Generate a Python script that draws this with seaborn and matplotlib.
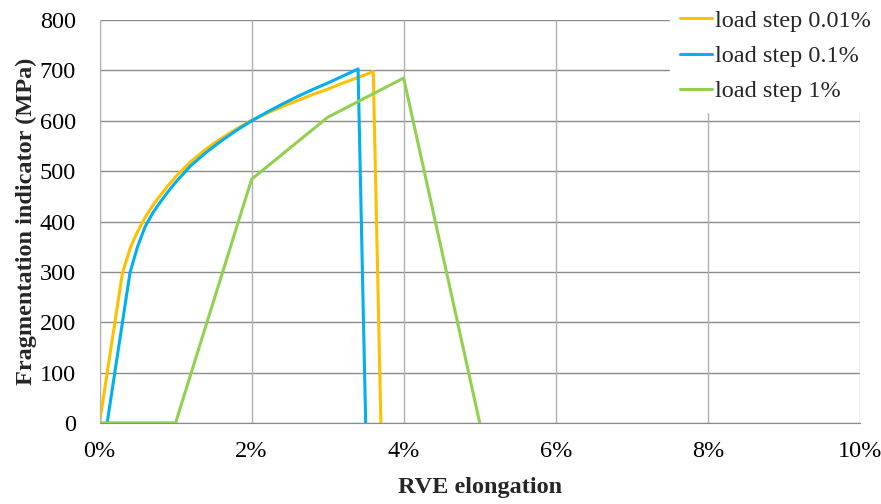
import pandas as pd
import numpy as np
import matplotlib
matplotlib.use('Agg')
import matplotlib.pyplot as plt
import seaborn as sns

# elongation in %, fragmentation indicator in MPa
x_001 = [0, 0.3, 0.41, 0.5, 0.6, 0.7, 0.8, 0.9, 1.0, 1.2, 1.4, 1.6, 1.8, 2.0,
         2.2, 2.4, 2.6, 2.8, 3.0, 3.2, 3.4, 3.6, 3.7]
y_001 = [0, 297, 350, 380, 408, 432, 452, 471, 489, 519, 544, 565, 584, 601,
         615, 628, 640, 652, 663, 675, 686, 698, 0]

x_01 = [0.1, 0.4, 0.5, 0.6, 0.7, 0.8, 0.9, 1.0, 1.2, 1.4, 1.6, 1.8, 2.0,
        2.2, 2.4, 2.6, 2.8, 3.0, 3.2, 3.4, 3.5]
y_01 = [0, 298, 350, 390, 417, 439, 459, 478, 511, 537, 560, 581, 600,
        617, 633, 648, 662, 675, 689, 703, 0]

x_1 = [0, 1, 2, 3, 4, 5]
y_1 = [0, 0, 484, 607, 685, 0]

labels = ['load step 0.01%', 'load step 0.1%', 'load step 1%']
colors = ['#FFC000', '#00B0F0', '#92D050']

xticks = [0, 2, 4, 6, 8, 10]
yticks = [0, 100, 200, 300, 400, 500, 600, 700, 800]

df = pd.concat([
    pd.DataFrame({'x': x_001, 'y': y_001, 'series': labels[0]}),
    pd.DataFrame({'x': x_01, 'y': y_01, 'series': labels[1]}),
    pd.DataFrame({'x': x_1, 'y': y_1, 'series': labels[2]}),
])

sns.set_style('white')
plt.rcParams['font.family'] = ['Liberation Serif', 'DejaVu Serif']

fig = plt.figure(figsize=(8.81, 5.04), dpi=100)
ax = fig.add_axes([0.113, 0.161, 0.863, 0.799])

sns.lineplot(data=df, x='x', y='y', hue='series', palette=colors,
             sort=False, estimator=None, linewidth=2.2, ax=ax)

ax.set_xlim(0, 10)
ax.set_ylim(0, 800)
ax.set_xticks(xticks)
ax.set_xticklabels([f'{t}%' for t in xticks])
ax.set_yticks(yticks)

for t in yticks:
    ax.axhline(t, color='#8c8c8c', lw=1, zorder=0)
for t in xticks:
    ax.axvline(t, color='#b0b0b0', lw=1, zorder=0)

for s in ['top', 'right']:
    ax.spines[s].set_visible(False)
ax.spines['left'].set_color('#b0b0b0')
ax.spines['bottom'].set_color('#8c8c8c')

ax.tick_params(axis='both', labelsize=17.5, colors='black', length=5, direction='out')
ax.tick_params(axis='y', color='#8c8c8c', pad=12)
ax.tick_params(axis='x', color='#b0b0b0', pad=8)

ax.set_xlabel('RVE elongation', fontsize=17.5, fontweight='bold')
ax.set_ylabel('Fragmentation indicator (MPa)', fontsize=17.5, fontweight='bold')
ax.xaxis.set_label_coords(0.5, -0.135)
ax.yaxis.set_label_coords(-0.082, 0.5)

leg = ax.legend(loc='upper right', bbox_to_anchor=(1.0, 1.0), bbox_transform=fig.transFigure,
                fontsize=17.5, frameon=True, fancybox=False, handlelength=1.3,
                handletextpad=0.15, labelspacing=0.55, borderpad=0.4, borderaxespad=0)
leg.get_frame().set_facecolor('white')
leg.get_frame().set_edgecolor('white')
leg.get_frame().set_alpha(1)
leg.set_title(None)

plt.savefig('out.png', dpi=100)
